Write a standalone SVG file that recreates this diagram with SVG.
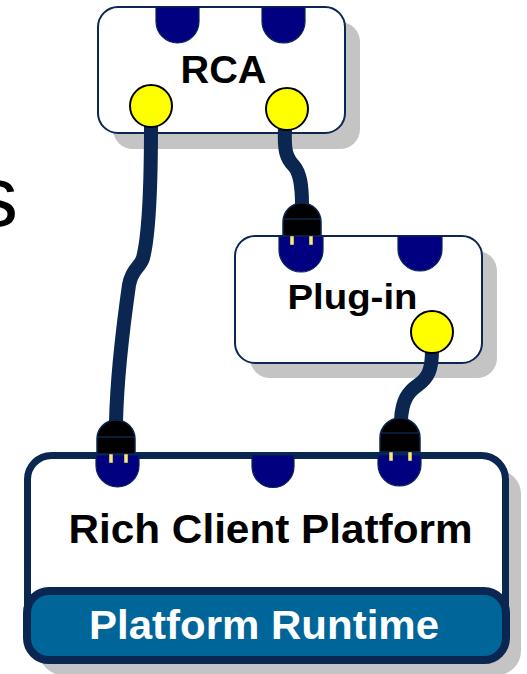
<svg xmlns="http://www.w3.org/2000/svg" width="527" height="674" viewBox="0 0 527 674">
<style>
.shadow{fill:#c4c4c4}
.box{fill:#ffffff;stroke:#0b2651;stroke-width:2}
.rcp{fill:#ffffff;stroke:#0b2651;stroke-width:7}
.rt{fill:#006699;stroke:#0b2651;stroke-width:8}
.socket{fill:#000080;stroke:#0b2651;stroke-width:1.2}
.plug{fill:#000000;stroke:#0b2651;stroke-width:1.5}
.prong{fill:#ffe680;stroke:#0b2651;stroke-width:0.5}
.port{fill:#ffff00;stroke:#000000;stroke-width:2}
.cable{fill:none;stroke:#0b2651;stroke-width:14;stroke-linecap:butt}
.lbl{font-family:"Liberation Sans",Arial,sans-serif;font-weight:bold;fill:#000000;text-anchor:middle}
</style>
<rect width="527" height="674" fill="#ffffff"/>
<text x="-25" y="226" font-family="'Liberation Sans',Arial,sans-serif" font-size="86" fill="#000000">s</text>

<g id="rcp">
<rect class="shadow" x="39" y="470" width="482" height="205" rx="24"/>
<rect class="rcp" x="27.5" y="455.5" width="478" height="204" rx="24"/>
<path class="socket" d="M96,455 V465.5 A21.5,21.5 0 0 0 139,465.5 V455 Z"/>
<path class="socket" d="M252,455 V466.5 A21,21 0 0 0 294,466.5 V455 Z"/>
<path class="socket" d="M378,455 V464.5 A21.5,21.5 0 0 0 421,464.5 V455 Z"/>
<text class="lbl" x="270.5" y="543" font-size="41" textLength="404" lengthAdjust="spacingAndGlyphs">Rich Client Platform</text>
<g id="runtime">
<rect class="rt" x="27" y="591" width="479" height="69" rx="22"/>
<text class="lbl" x="264" y="639" font-size="40" style="fill:#ffffff" textLength="350" lengthAdjust="spacingAndGlyphs">Platform Runtime</text>
</g>
</g>

<g id="rca">
<rect class="shadow" x="113" y="22" width="247" height="127" rx="20"/>
<rect class="box" x="98" y="7" width="247" height="126" rx="20"/>
<path class="socket" d="M156,7 V21.5 A21.5,21.5 0 0 0 199,21.5 V7 Z"/>
<path class="socket" d="M262,7 V21.5 A21.5,21.5 0 0 0 305,21.5 V7 Z"/>
<text class="lbl" x="223.5" y="83" font-size="38" textLength="86" lengthAdjust="spacingAndGlyphs">RCA</text>
</g>

<g id="plugin">
<rect class="shadow" x="250" y="251" width="247" height="127" rx="20"/>
<rect class="box" x="235" y="236" width="247" height="127" rx="20"/>
<path class="socket" d="M279,236 V250 A22,22 0 0 0 323,250 V236 Z"/>
<path class="socket" d="M398,236 V249 A22,22 0 0 0 442,249 V236 Z"/>
<text class="lbl" x="352.5" y="309" font-size="35" textLength="130" lengthAdjust="spacingAndGlyphs">Plug-in</text>
</g>

<g id="connectors">
<path class="cable" d="M151,125 C151,180 149,235 143,258 C140,268 132,268 129,285 C124,320 117,380 116,422"/>
<path class="cable" d="M285,128 C284,150 286,158 294,166 C300,173 302,185 302,205"/>
<path class="cable" d="M432,350 C432,370 428,378 418,385 C408,392 402,400 401,420"/>
</g>

<g id="ports">
<circle class="port" cx="151" cy="106" r="21"/>
<circle class="port" cx="287" cy="109" r="21"/>
<circle class="port" cx="432" cy="332" r="21"/>
</g>

<g id="plug-plugin">
<path class="plug" d="M283,236 V222 A19,19 0 0 1 321,222 V236 Z"/>
<line x1="283" y1="219" x2="321" y2="219" stroke="#0b2651" stroke-width="1.5"/>
<rect class="prong" x="290" y="236" width="4" height="9"/>
<rect class="prong" x="309" y="236" width="4" height="9"/>
</g>
<g id="plug-rcp-left">
<path class="plug" d="M97,454 V439 A19,19 0 0 1 135,439 V454 Z"/>
<line x1="97" y1="437" x2="135" y2="437" stroke="#0b2651" stroke-width="1.5"/>
<rect class="prong" x="109" y="454" width="4" height="9"/>
<rect class="prong" x="124" y="454" width="4" height="9"/>
</g>
<g id="plug-rcp-right">
<path class="plug" d="M380,452 V438 A20,20 0 0 1 420,438 V452 Z"/>
<line x1="380" y1="433" x2="420" y2="433" stroke="#0b2651" stroke-width="1.5"/>
<rect class="prong" x="389" y="452" width="4" height="9"/>
<rect class="prong" x="408" y="452" width="4" height="9"/>
</g>
</svg>
